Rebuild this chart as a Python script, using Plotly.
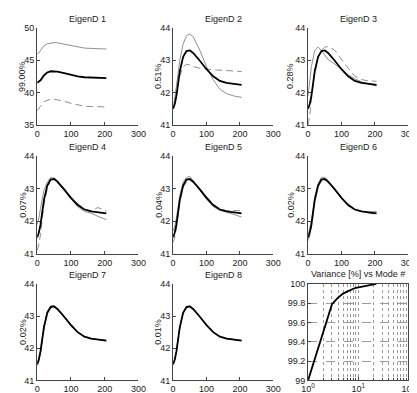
import plotly.graph_objects as go

# ---------------- data ----------------
t = [0, 5, 10, 20, 30, 40, 50, 60, 80, 100, 120, 140, 160, 180, 200, 205]
mean_curve = [41.5, 41.65, 41.9, 42.65, 43.1, 43.28, 43.3, 43.22, 42.98, 42.72, 42.5, 42.36, 42.3, 42.27, 42.25, 42.24]

titles = ["EigenD 1", "EigenD 2", "EigenD 3", "EigenD 4", "EigenD 5", "EigenD 6", "EigenD 7", "EigenD 8"]
var_labels = ["99.00%", "0.51%", "0.28%", "0.07%", "0.04%", "0.02%", "0.02%", "0.01%"]

plus1 = [45.9, 46.1, 46.5, 47.2, 47.5, 47.65, 47.7, 47.65, 47.45, 47.2, 47.0, 46.85, 46.8, 46.75, 46.7, 46.7]
minus1 = [37.2, 37.5, 37.9, 38.6, 38.85, 39.0, 39.0, 38.9, 38.65, 38.35, 38.1, 37.9, 37.85, 37.8, 37.8, 37.8]
plus2 = [41.5, 41.8, 42.2, 43.0, 43.5, 43.75, 43.8, 43.72, 43.3, 42.8, 42.4, 42.1, 41.97, 41.9, 41.86, 41.85]
minus2 = [41.5, 41.7, 42.0, 42.5, 42.8, 42.87, 42.85, 42.8, 42.75, 42.72, 42.7, 42.69, 42.68, 42.67, 42.65, 42.65]
plus3 = [41.9, 42.3, 42.8, 43.3, 43.4, 43.3, 43.15, 43.02, 42.88, 42.72, 42.55, 42.42, 42.33, 42.27, 42.21, 42.2]
minus3 = [41.0, 41.3, 41.8, 42.7, 43.1, 43.3, 43.4, 43.42, 43.3, 43.02, 42.75, 42.5, 42.4, 42.36, 42.35, 42.35]
plus4 = [41.9, 42.1, 42.4, 42.95, 43.2, 43.35, 43.32, 43.2, 42.95, 42.7, 42.45, 42.3, 42.25, 42.15, 42.08, 42.05]
minus4 = [41.1, 41.3, 41.6, 42.5, 43.0, 43.3, 43.35, 43.25, 43.0, 42.75, 42.55, 42.38, 42.32, 42.42, 42.35, 42.3]
plus5 = [41.7, 41.85, 42.1, 42.8, 43.2, 43.35, 43.38, 43.25, 42.95, 42.68, 42.45, 42.33, 42.28, 42.22, 42.15, 42.13]
minus5 = [41.35, 41.5, 41.8, 42.6, 43.05, 43.2, 43.25, 43.2, 43.0, 42.75, 42.52, 42.38, 42.33, 42.33, 42.32, 42.32]
plus6 = [41.6, 41.75, 42.0, 42.75, 43.15, 43.35, 43.35, 43.25, 42.98, 42.72, 42.48, 42.35, 42.3, 42.28, 42.3, 42.3]
minus6 = [41.4, 41.55, 41.8, 42.6, 43.05, 43.25, 43.3, 43.2, 42.97, 42.7, 42.52, 42.37, 42.3, 42.25, 42.22, 42.2]
plus7 = [41.55, 41.7, 41.95, 42.7, 43.15, 43.32, 43.33, 43.24, 43.0, 42.74, 42.5, 42.37, 42.3, 42.27, 42.24, 42.23]
minus7 = [41.45, 41.6, 41.85, 42.6, 43.07, 43.25, 43.28, 43.2, 42.96, 42.7, 42.5, 42.35, 42.3, 42.27, 42.26, 42.25]
plus8 = [41.52, 41.67, 41.92, 42.67, 43.12, 43.3, 43.32, 43.23, 42.99, 42.73, 42.51, 42.37, 42.31, 42.28, 42.25, 42.24]
minus8 = [41.48, 41.63, 41.88, 42.63, 43.08, 43.26, 43.28, 43.21, 42.97, 42.71, 42.49, 42.35, 42.29, 42.26, 42.25, 42.24]

modes = list(range(1, 24))
cum_variance = [99.00, 99.51, 99.79, 99.86, 99.90, 99.92, 99.94, 99.95, 99.96, 99.965, 99.97, 99.975,
                99.98, 99.984, 99.987, 99.99, 99.992, 99.994, 99.996, 99.997, 99.998, 99.999, 100.0]

x_ticks = [0, 100, 200, 300]
y_ticks_first = [35, 40, 45, 50]
y_ticks_rest = [41, 42, 43, 44]
var_yticks = [99, 99.2, 99.4, 99.6, 99.8, 100]
var_ytext = ["99", "99.2", "99.4", "99.6", "99.8", "100"]
var_xmajor = [1, 10, 100]
var_xmajor_text = ["10<sup>0</sup>", "10<sup>1</sup>", "10<sup>2</sup>"]
var_xminor = [2, 3, 4, 5, 6, 7, 8, 9, 20, 30, 40, 50, 60, 70, 80, 90]

plus_sets = [plus1, plus2, plus3, plus4, plus5, plus6, plus7, plus8]
minus_sets = [minus1, minus2, minus3, minus4, minus5, minus6, minus7, minus8]

# ---------------- layout geometry (pixels) ----------------
W, H = 417, 393
col_px = [(23, 128), (164, 268), (304, 408)]
row_px = [(15, 115), (147, 247), (278, 377)]
ylabel_x = [8, 149, 286]

FONT = "Liberation Sans, Arial, sans-serif"
AX_COL = "#444444"
GRAY = "#8f8f8f"
GRID = "#9a9a9a"

fig = go.Figure()
layout = dict(width=W, height=H, autosize=False, margin=dict(l=0, r=0, t=0, b=0),
              paper_bgcolor="white", plot_bgcolor="white", showlegend=False,
              font=dict(family=FONT, size=9, color="#222222"))
annotations = []

for k in range(9):
    r, c = divmod(k, 3)
    ax = k + 1
    xa = "xaxis" if ax == 1 else f"xaxis{ax}"
    ya = "yaxis" if ax == 1 else f"yaxis{ax}"
    xref = "x" if ax == 1 else f"x{ax}"
    yref = "y" if ax == 1 else f"y{ax}"
    x0, x1 = col_px[c]
    y0, y1 = row_px[r]
    xdom = [x0 / W, x1 / W]
    ydom = [1 - y1 / H, 1 - y0 / H]
    cx = (x0 + x1) / 2 / W

    if k < 8:
        fig.add_trace(go.Scatter(x=t, y=plus_sets[k], mode="lines", xaxis=xref, yaxis=yref,
                                 line=dict(color=GRAY, width=1)))
        fig.add_trace(go.Scatter(x=t, y=minus_sets[k], mode="lines", xaxis=xref, yaxis=yref,
                                 line=dict(color=GRAY, width=1, dash="7px,4px")))
        fig.add_trace(go.Scatter(x=t, y=mean_curve, mode="lines", xaxis=xref, yaxis=yref,
                                 line=dict(color="black", width=1.8)))
        yt = y_ticks_first if k == 0 else y_ticks_rest
        layout[xa] = dict(domain=xdom, anchor=yref, range=[0, 300], tickvals=x_ticks,
                          ticks="inside", ticklen=3, tickcolor=AX_COL, showline=True,
                          linecolor=AX_COL, linewidth=1, showgrid=False, zeroline=False,
                          tickfont=dict(size=9))
        layout[ya] = dict(domain=ydom, anchor=xref, range=[yt[0], yt[-1]], tickvals=yt,
                          ticks="inside", ticklen=3, tickcolor=AX_COL, showline=True,
                          linecolor=AX_COL, linewidth=1, showgrid=False, zeroline=False,
                          tickfont=dict(size=9))
        annotations.append(dict(text=var_labels[k], x=ylabel_x[c] / W, y=1 - (y0 + y1) / 2 / H,
                                xref="paper", yref="paper", showarrow=False, textangle=-90,
                                font=dict(size=9), xanchor="center", yanchor="middle"))
        annotations.append(dict(text=titles[k], x=cx, y=1 - (y0 - 9) / H, xref="paper",
                                yref="paper", showarrow=False, font=dict(size=9),
                                xanchor="center", yanchor="middle"))
    else:
        fig.add_trace(go.Scatter(x=modes, y=cum_variance, mode="lines", xaxis=xref, yaxis=yref,
                                 line=dict(color="black", width=1.8)))
        layout[xa] = dict(domain=xdom, anchor=yref, type="log", range=[0, 2],
                          tickvals=var_xmajor, ticktext=var_xmajor_text,
                          ticks="inside", ticklen=3, tickcolor=AX_COL, showline=True, mirror=True,
                          linecolor=AX_COL, linewidth=1, showgrid=True, gridcolor=GRID,
                          griddash="dot", gridwidth=1, zeroline=False, tickfont=dict(size=9),
                          minor=dict(tickmode="array", tickvals=var_xminor, ticks="inside",
                                     ticklen=2, tickcolor=AX_COL, showgrid=True,
                                     gridcolor=GRID, griddash="dot", gridwidth=1))
        layout[ya] = dict(domain=ydom, anchor=xref, range=[99, 100], tickvals=var_yticks,
                          ticktext=var_ytext,
                          ticks="inside", ticklen=3, tickcolor=AX_COL, showline=True, mirror=True,
                          linecolor=AX_COL, linewidth=1, showgrid=True, gridcolor=GRID,
                          griddash="dash", gridwidth=1, zeroline=False, tickfont=dict(size=9))
        annotations.append(dict(text="Variance [%] vs Mode #", x=cx, y=1 - (y0 - 10) / H,
                                xref="paper", yref="paper", showarrow=False, font=dict(size=9),
                                xanchor="center", yanchor="middle"))

layout["annotations"] = annotations
fig.update_layout(**layout)
fig.write_html("out.html")
